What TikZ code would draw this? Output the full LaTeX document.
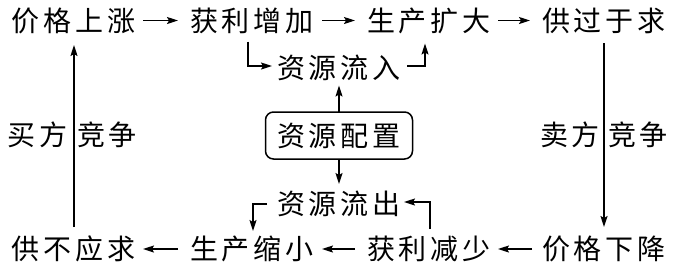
\documentclass[tikz,border=0pt]{standalone}
\usepackage{fontspec}
\newfontfamily\cjk{Noto Sans CJK SC}
\usetikzlibrary{arrows.meta}
\newcommand{\jg}{\kern4pt}
\begin{document}
\begin{tikzpicture}[x=1pt,y=-1pt,
  txt/.style={inner sep=0pt,outer sep=0pt,font=\cjk\fontsize{28}{28}\selectfont,text height=24.6pt,text depth=3.4pt},
  arr/.style={line width=1.5pt,-{Stealth[length=11pt,width=7pt,inset=2pt]}},
  boxst/.style={txt,draw,line width=1.5pt,rounded corners=8pt,minimum width=147pt,minimum height=47pt}]
\useasboundingbox (0,0) rectangle (676,269);
% top row
\node[txt] (A) at (74,20.5) {价\jg 格\jg 上\jg 涨};
\node[txt] (B) at (252,20.5) {获\jg 利\jg 增\jg 加};
\node[txt] (C) at (429,20.5) {生\jg 产\jg 扩\jg 大};
\node[txt] (D) at (604,20.5) {供\jg 过\jg 于\jg 求};
% bottom row
\node[txt] (E) at (74,249) {供\jg 不\jg 应\jg 求};
\node[txt] (F) at (252,249) {生\jg 产\jg 缩\jg 小};
\node[txt] (G) at (429,249) {获\jg 利\jg 减\jg 少};
\node[txt] (H) at (604,249) {价\jg 格\jg 下\jg 降};
% middle
\node[txt] (IN) at (339,67.5) {资\jg 源\jg 流\jg 入};
\node[txt] (OUT) at (339,204) {资\jg 源\jg 流\jg 出};
\node[boxst] (BOX) at (339,135.5) {资\jg 源\jg 配\jg 置};
% side labels
\node[txt] (L1) at (38,135) {买\jg 方};
\node[txt] (L2) at (107,135) {竞\jg 争};
\node[txt] (R1) at (570,135) {卖\jg 方};
\node[txt] (R2) at (638,135) {竞\jg 争};
% horizontal arrows top
\draw[arr] ([xshift=7pt]A.east) -- ([xshift=-12pt]B.west);
\draw[arr] ([xshift=8pt]B.east) -- ([xshift=-12pt]C.west);
\draw[arr] ([xshift=7pt]C.east) -- ([xshift=-12pt]D.west);
% horizontal arrows bottom
\draw[arr] ([xshift=-12pt]F.west) -- ([xshift=7pt]E.east);
\draw[arr] ([xshift=-12pt]G.west) -- ([xshift=8pt]F.east);
\draw[arr] ([xshift=-10pt]H.west) -- ([xshift=7pt]G.east);
% vertical arrows
\draw[arr] ([yshift=8pt]E.north) -- ([yshift=-10.5pt]A.south);
\draw[arr] ([yshift=-8.5pt]D.south) -- ([yshift=8pt]H.north);
% box arrows
\draw[arr] (BOX.north) -- ([yshift=-4pt]IN.south);
\draw[arr] (BOX.south) -- ([yshift=6pt]OUT.north);
% elbows
\draw[arr] ([xshift=-4pt,yshift=-7pt]B.south) |- ([xshift=-5pt,yshift=1.5pt]IN.west);
\draw[arr] ([xshift=6pt,yshift=1.5pt]IN.east) -| ([xshift=-4pt,yshift=-9pt]C.south);
\draw[arr] ([xshift=1pt,yshift=6pt]G.north) |- ([xshift=3pt,yshift=2pt]OUT.east);
\draw[arr] ([xshift=-10pt]OUT.west) -| ([xshift=1pt,yshift=4pt]F.north);
\end{tikzpicture}
\end{document}
